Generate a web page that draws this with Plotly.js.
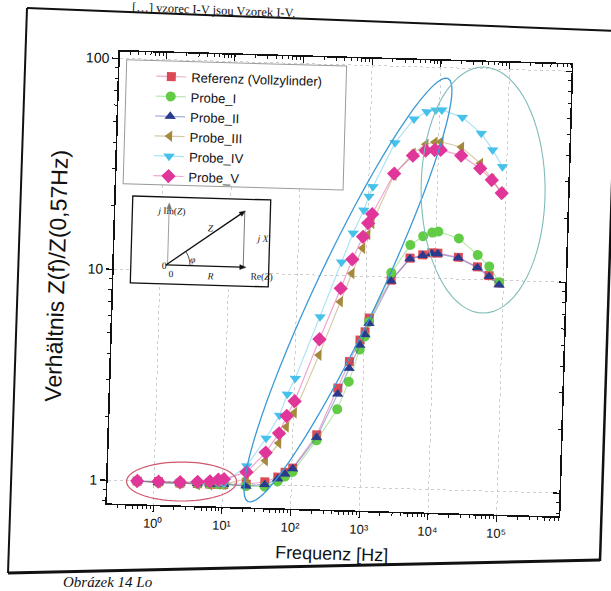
<!DOCTYPE html>
<html><head><meta charset="utf-8">
<script src="https://cdn.plot.ly/plotly-3.0.1.min.js"></script>
<style>
html,body{margin:0;padding:0;background:#fff;overflow:hidden;}
#wrap{position:relative;width:611px;height:591px;overflow:hidden;background:#fff;}
#chart{position:absolute;left:0;top:0;width:611px;height:591px;transform:rotate(1.65deg);transform-origin:305.5px 295.5px;}
#page{position:absolute;left:0;top:0;pointer-events:none;}
</style></head>
<body><div id="wrap"><div id="chart"></div>
<svg id="page" width="611" height="591">
 <path d="M27,8 L617,31" fill="none" stroke="#111" stroke-width="2"/>
 <path d="M27,8 L8,573" fill="none" stroke="#111" stroke-width="2"/>
 <path d="M617,30 L600,561" fill="none" stroke="#111" stroke-width="2.5"/>
 <path d="M8,573 L600,560" fill="none" stroke="#111" stroke-width="3"/>
 <text x="132" y="11" transform="rotate(2.2 132 11)" font-family="Liberation Serif" font-size="12.5" fill="#111">[…] vzorec I-V jsou Vzorek I-V.</text>
 <text x="63" y="586.5" font-family="Liberation Serif" font-style="italic" font-size="15" fill="#111">Obrázek 14 Lo</text>
</svg></div>
<script>
// ---- data ----
const freq = [0.57, 1.16, 2.4, 4.3, 6.5, 8.6, 10.4, 22, 41, 63, 80, 103, 223, 433, 621, 868, 1019, 1156, 2320, 4280, 6530, 8830, 10800, 21600, 41300, 61500, 86900];
const referenz = [1.00, 1.00, 0.99, 0.99, 0.99, 0.99, 0.99, 1.00, 1.03, 1.09, 1.15, 1.21, 1.75, 2.93, 3.93, 4.99, 5.47, 6.35, 9.70, 12.4, 12.9, 13.2, 13.2, 12.7, 11.5, 10.5, 9.72];
const probe1 = [1.00, 0.99, 0.99, 0.99, 0.99, 0.99, 0.99, 0.98, 0.98, 1.04, 1.10, 1.16, 1.65, 2.33, 3.16, 4.5, 5.2, 6.1, 10.5, 14.3, 15.8, 16.5, 16.7, 15.6, 13.1, 11.6, 9.8];
const probe2 = [1.00, 0.99, 0.99, 0.99, 0.99, 0.99, 0.99, 0.98, 1.00, 1.07, 1.13, 1.20, 1.70, 2.75, 3.65, 4.72, 5.30, 6.00, 9.60, 12.3, 12.8, 13.1, 13.1, 12.6, 11.4, 10.4, 9.50];
const probe3 = [1.00, 0.99, 0.99, 0.98, 0.98, 0.99, 0.99, 1.06, 1.30, 1.58, 1.89, 2.21, 4.18, 7.53, 10.3, 13.6, 15.8, 17.9, 30.5, 38.9, 43.1, 44.2, 44.5, 42.2, 35.6, 30.1, 26.0];
const probe4 = [1.00, 1.00, 1.00, 1.00, 1.00, 1.00, 1.00, 1.22, 1.66, 2.14, 2.70, 3.22, 6.35, 11.6, 16.0, 20.6, 24.0, 26.7, 43.4, 56.6, 61.5, 62.8, 63.0, 58.5, 49.4, 41.4, 34.6];
const probe5 = [1.00, 1.00, 1.00, 1.01, 1.02, 1.04, 1.05, 1.14, 1.42, 1.76, 2.13, 2.51, 4.97, 8.71, 12.0, 15.4, 17.9, 19.8, 31.0, 37.9, 40.2, 40.6, 40.7, 38.5, 33.7, 29.8, 25.9];
const seriesNames = ['Referenz (Vollzylinder)', 'Probe_I', 'Probe_II', 'Probe_III', 'Probe_IV', 'Probe_V'];
const xTickVals = [1, 10, 100, 1000, 10000, 100000];
const xTickText = ['10⁰', '10¹', '10²', '10³', '10⁴', '10⁵'];
const yTickVals = [1, 10, 100];
const yTickText = ['1', '10', '100'];

// minor tick positions (2..9 within each decade)
function minorVals(k0, k1) {
  const out = [];
  for (let k = k0; k <= k1; k++) for (let d = 2; d <= 9; d++) out.push(d * Math.pow(10, k));
  return out;
}
const xMinor = minorVals(-1, 5);
const yMinor = minorVals(-1, 2);

// ---- styles ----
const seriesValues = [referenz, probe1, probe2, probe3, probe4, probe5];
const symbols = ['square', 'circle', 'triangle-up', 'triangle-left', 'triangle-down', 'diamond'];
const sizes = [9, 10, 10, 10, 10, 11];
const colors = ['#dc4a55', '#62cc46', '#2a3a8c', '#a58a3e', '#45c1ea', '#e0369a'];
const lineColors = ['rgba(214,100,160,0.55)', 'rgba(98,204,70,0.45)', 'rgba(60,80,170,0.45)', 'rgba(165,138,62,0.45)', 'rgba(69,193,234,0.45)', 'rgba(224,54,154,0.45)'];

const traces = seriesValues.map((v, i) => ({
  x: freq, y: v, name: seriesNames[i], type: 'scatter', mode: 'lines+markers',
  marker: {symbol: symbols[i], size: sizes[i], color: colors[i], line: {width: 0}},
  line: {color: lineColors[i], width: 1.2}
}));
// invisible helpers so the mirrored tick axes get drawn
['2', '3'].forEach(n => traces.push({x: freq.slice(0, 1), y: referenz.slice(0, 1), xaxis: 'x' + n, yaxis: 'y' + n,
  mode: 'markers', marker: {opacity: 0}, showlegend: false, hoverinfo: 'skip', type: 'scatter'}));

// plot area in (unrotated) pixel coordinates
const L = 113, T = 57, W = 452, H = 452;
const P = (x, y) => [(x - L) / W, 1 - (y - T) / H];

function ellipse(cx, cy, rx, ry, deg) {
  const a = deg * Math.PI / 180; let d = '';
  for (let k = 0; k <= 72; k++) {
    const t = 2 * Math.PI * k / 72;
    const x = cx + rx * Math.cos(t) * Math.cos(a) - ry * Math.sin(t) * Math.sin(a);
    const y = cy + rx * Math.cos(t) * Math.sin(a) + ry * Math.sin(t) * Math.cos(a);
    const p = P(x, y);
    d += (k ? ' L' : 'M') + p[0].toFixed(5) + ',' + p[1].toFixed(5);
  }
  return d + ' Z';
}
function rect(x0, y0, x1, y1, style) {
  const a = P(x0, y0), b = P(x1, y1);
  return Object.assign({type: 'rect', xref: 'paper', yref: 'paper', x0: a[0], y0: b[1], x1: b[0], y1: a[1], layer: 'above'}, style);
}
function seg(x0, y0, x1, y1, style) {
  const a = P(x0, y0), b = P(x1, y1);
  return Object.assign({type: 'line', xref: 'paper', yref: 'paper', x0: a[0], y0: a[1], x1: b[0], y1: b[1], layer: 'above'}, style);
}
function head(x0, y0, x1, y1, color) {
  const len = Math.hypot(x1 - x0, y1 - y0), ux = (x1 - x0) / len, uy = (y1 - y0) / len;
  const bx = x1 - 6 * ux, by = y1 - 6 * uy;
  const pts = [P(x1, y1), P(bx - 2.4 * uy, by + 2.4 * ux), P(bx + 2.4 * uy, by - 2.4 * ux)];
  return {type: 'path', xref: 'paper', yref: 'paper', layer: 'above', fillcolor: color, line: {color: color, width: 0.5},
          path: 'M' + pts.map(p => p[0].toFixed(5) + ',' + p[1].toFixed(5)).join(' L') + ' Z'};
}
function arc(cx, cy, r, d0, d1) {
  let d = '';
  for (let k = 0; k <= 10; k++) {
    const t = (d0 + (d1 - d0) * k / 10) * Math.PI / 180;
    const p = P(cx + r * Math.cos(t), cy + r * Math.sin(t));
    d += (k ? ' L' : 'M') + p[0].toFixed(5) + ',' + p[1].toFixed(5);
  }
  return d;
}

const shapes = [
  rect(120, 65, 340, 189, {line: {color: '#9a9a9a', width: 1}, fillcolor: '#ffffff'}),
  rect(130, 201, 268, 288, {line: {color: '#111', width: 1.3}, fillcolor: '#ffffff'}),
  seg(242.4, 214, 242.4, 269, {line: {color: '#555', width: 0.8}}),
  seg(166.7, 269, 166.7, 210, {line: {color: '#888', width: 0.8}}),
  head(166.7, 269, 166.7, 207, '#777'),
  seg(165.1, 269, 240, 269, {line: {color: '#111', width: 1.3}}),
  head(165.1, 269, 245, 269, '#111'),
  seg(165.1, 269, 239, 215.5, {line: {color: '#111', width: 1.3}}),
  head(165.1, 269, 243, 212.7, '#111'),
  {type: 'path', xref: 'paper', yref: 'paper', layer: 'above', path: arc(165.1, 269, 24, -36, 0), line: {color: '#222', width: 0.8}},
  {type: 'path', xref: 'paper', yref: 'paper', layer: 'above', path: ellipse(187, 485, 55, 19.5, -1.65), line: {color: '#d0566a', width: 1.2}},
  {type: 'path', xref: 'paper', yref: 'paper', layer: 'above', path: ellipse(347.8, 288.8, 234, 31.6, -66.35), line: {color: '#3a9ad8', width: 1.3}},
  {type: 'path', xref: 'paper', yref: 'paper', layer: 'above', path: ellipse(480, 185, 62, 123, -1.65), line: {color: '#7fbcb8', width: 1.1}}
];

const serif = {family: 'Liberation Serif, serif', size: 9.5, color: '#111'};
function lab(x, y, text) {
  const p = P(x, y);
  return {xref: 'paper', yref: 'paper', x: p[0], y: p[1], text: text, showarrow: false, font: serif};
}
const annotations = [
  lab(152, 207.5, '<i>j</i> Im(<i>Z</i>)'),
  lab(203.5, 230.5, '<i>Z</i>'),
  lab(252, 240, '<i>j X</i>'),
  lab(186.5, 262.5, '<i>φ</i>'),
  lab(159.2, 269.5, '0'),
  lab(166, 278, '0'),
  lab(203.7, 279, '<i>R</i>'),
  lab(248, 278, 'Re(<i>Z</i>)')
];

const axisFont = {family: 'Liberation Sans, Arial, sans-serif', color: '#111'};
const xRange = [-0.675, 5.904], yRange = [-0.110, 2.032];
function mirrorAxis(range, side, overlay, anchor, vals, len) {
  return {type: 'log', range: range, overlaying: overlay, side: side, anchor: anchor,
          tickmode: 'array', tickvals: [], showticklabels: false, ticks: '',
          minor: {tickmode: 'array', tickvals: vals, ticks: 'inside', ticklen: len, tickwidth: len > 4 ? 1.2 : 1, tickcolor: '#111', showgrid: false},
          showgrid: false, showline: false, zeroline: false};
}
const layout = {
  width: 611, height: 591,
  margin: {l: L, r: 611 - L - W, t: T, b: 591 - T - H, pad: 0},
  paper_bgcolor: '#ffffff', plot_bgcolor: '#ffffff',
  font: {family: 'Liberation Sans, Arial, sans-serif', color: '#111'},
  showlegend: true,
  legend: {x: 0.071, y: 0.981, xanchor: 'left', yanchor: 'top', bgcolor: 'rgba(0,0,0,0)', borderwidth: 0,
           font: {family: 'Liberation Sans, Arial, sans-serif', size: 13, color: '#111'}, tracegroupgap: 0},
  xaxis: {type: 'log', range: xRange, tickmode: 'array', tickvals: xTickVals, ticktext: xTickText,
          ticks: 'outside', ticklen: 6, tickwidth: 1.2, tickcolor: '#111',
          minor: {tickmode: 'array', tickvals: xMinor, ticks: 'outside', ticklen: 3, tickwidth: 1, tickcolor: '#111', showgrid: false},
          showline: true, linecolor: '#111', linewidth: 1.6, mirror: true,
          showgrid: true, gridcolor: '#cfcfcf', griddash: 'dot', gridwidth: 1,
          tickfont: Object.assign({size: 13}, axisFont),
          title: {text: 'Frequenz [Hz]', font: Object.assign({size: 18}, axisFont), standoff: 12}},
  yaxis: {type: 'log', range: yRange, tickmode: 'array', tickvals: yTickVals, ticktext: yTickText,
          ticks: 'outside', ticklen: 6, tickwidth: 1.2, tickcolor: '#111',
          minor: {tickmode: 'array', tickvals: yMinor, ticks: 'outside', ticklen: 3, tickwidth: 1, tickcolor: '#111', showgrid: false},
          showline: true, linecolor: '#111', linewidth: 1.6, mirror: true,
          showgrid: true, gridcolor: '#cfcfcf', griddash: 'dot', gridwidth: 1,
          tickfont: Object.assign({size: 14}, axisFont),
          title: {text: 'Verhältnis Z(f)/Z(0,57Hz)', font: Object.assign({size: 23}, axisFont), standoff: 8}},
  xaxis2: mirrorAxis(xRange, 'top', 'x', 'y2', xMinor, 3),
  yaxis2: mirrorAxis(yRange, 'right', 'y', 'x2', yMinor, 3),
  xaxis3: mirrorAxis(xRange, 'top', 'x', 'y3', xTickVals, 6),
  yaxis3: mirrorAxis(yRange, 'right', 'y', 'x3', yTickVals, 6),
  shapes: shapes,
  annotations: annotations
};
Plotly.newPlot('chart', traces, layout, {staticPlot: true, displayModeBar: false});
</script>
</body></html>
